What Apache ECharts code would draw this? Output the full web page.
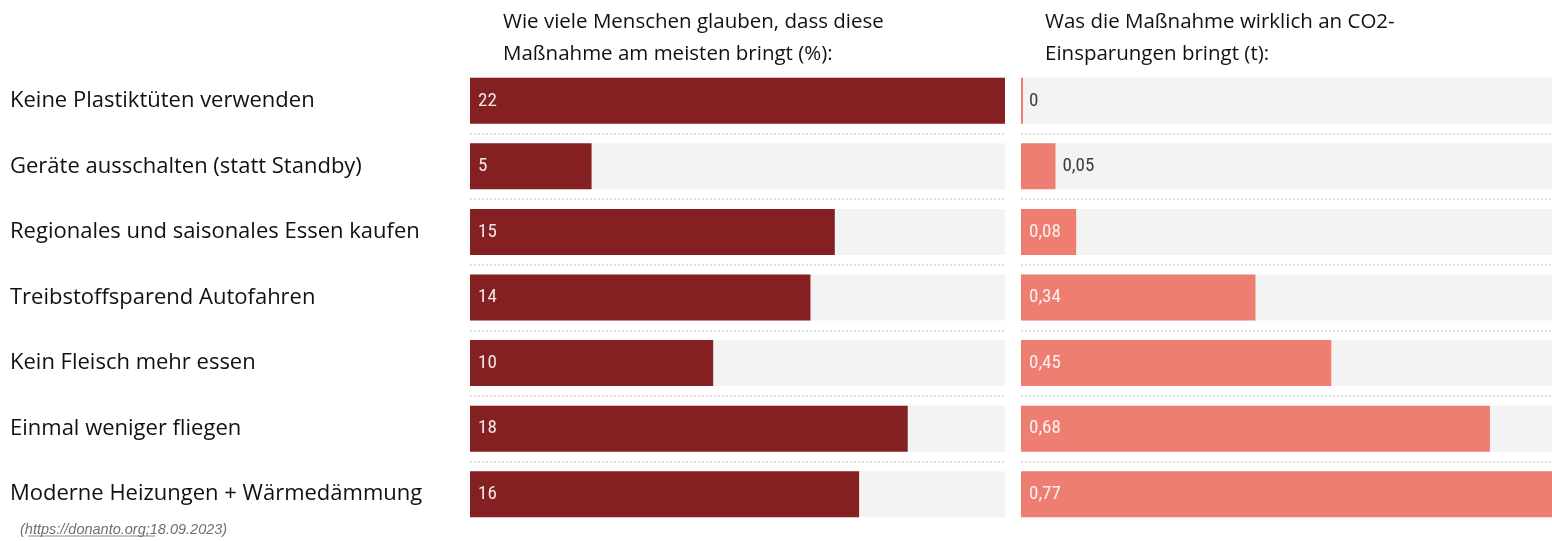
<!DOCTYPE html>
<html>
<head>
<meta charset="utf-8">
<script src="https://cdn.jsdelivr.net/npm/echarts@6/dist/echarts.min.js"></script>
<style>
html,body{margin:0;padding:0;background:#fff;}
#chart{width:1552px;height:541px;}
</style>
</head>
<body>
<div id="chart"></div>
<script>
var massnahmen = ['Keine Plastiktüten verwenden', 'Geräte ausschalten (statt Standby)', 'Regionales und saisonales Essen kaufen', 'Treibstoffsparend Autofahren', 'Kein Fleisch mehr essen', 'Einmal weniger fliegen', 'Moderne Heizungen + Wärmedämmung'];
var glaubenProzent = [22, 5, 15, 14, 10, 18, 16];
var co2Tonnen = [0, 0.05, 0.08, 0.34, 0.45, 0.68, 0.77];

var titelLinks = 'Wie viele Menschen glauben, dass diese\nMaßnahme am meisten bringt (%):';
var titelRechts = 'Was die Maßnahme wirklich an CO2-\nEinsparungen bringt (t):';
var quelle = '(https://donanto.org;18.09.2023)';

var chart = echarts.init(document.getElementById('chart'));

function komma(v){
    return String(v).replace('.', ',');
}

// kleine Werte: Beschriftung dunkel, bei 0,05 rechts neben dem Balken
var co2Data = co2Tonnen.map(function(v){
    if(v == 0){
        return {value: v, label: {color: '#3b3b44'}};
    }else if(v < 0.07){
        return {value: v, label: {position: 'right', distance: 7, color: '#3b3b44'}};
    }
    return v;
});

var labelFont = "'Roboto Condensed', 'Roboto', sans-serif";
var textFont = "'Open Sans', sans-serif";

var option = {
    backgroundColor: '#fff',
    animation: false,
    title: [
        {text: titelLinks, left: 498, top: 1, textStyle: {fontFamily: textFont, fontSize: 20.5, fontWeight: 'normal', color: '#111', lineHeight: 32}},
        {text: titelRechts, left: 1040, top: 1, textStyle: {fontFamily: textFont, fontSize: 20.5, fontWeight: 'normal', color: '#111', lineHeight: 32}},
        {text: quelle, left: 15, top: 517, textStyle: {fontFamily: 'Liberation Sans', fontStyle: 'italic', fontSize: 14.5, fontWeight: 'normal', color: '#6f6f6f'}}
    ],
    graphic: [
        {type: 'line', shape: {x1: 28, y1: 536, x2: 155, y2: 536}, style: {stroke: '#8a8a8a', lineWidth: 1}}
    ],
    grid: [
        {left: 470, width: 535, top: 68, height: 459},
        {left: 1021, right: 0, top: 68, height: 459}
    ],
    xAxis: [
        {type: 'value', gridIndex: 0, min: 0, max: 22, show: false},
        {type: 'value', gridIndex: 1, min: 0, max: 0.77, show: false}
    ],
    yAxis: [
        {
            type: 'category', gridIndex: 0, data: massnahmen, inverse: true,
            axisLine: {show: false}, axisTick: {show: false},
            axisLabel: {align: 'left', margin: 460, fontFamily: textFont, fontSize: 22, color: '#111'},
            splitLine: {show: true, showMinLine: false, showMaxLine: false, lineStyle: {type: 'dotted', color: '#dedede', width: 2}}
        },
        {
            type: 'category', gridIndex: 1, data: massnahmen, inverse: true,
            axisLine: {show: false}, axisTick: {show: false}, axisLabel: {show: false},
            splitLine: {show: true, showMinLine: false, showMaxLine: false, lineStyle: {type: 'dotted', color: '#dedede', width: 2}}
        }
    ],
    series: [
        {
            name: 'Glauben', type: 'bar', xAxisIndex: 0, yAxisIndex: 0,
            data: glaubenProzent, barWidth: 46,
            itemStyle: {color: '#841f22'},
            showBackground: true, backgroundStyle: {color: '#f3f3f3'},
            label: {show: true, position: 'insideLeft', distance: 8, color: '#f4e6e6', fontFamily: labelFont, fontSize: 19, fontWeight: 'normal'}
        },
        {
            name: 'CO2', type: 'bar', xAxisIndex: 1, yAxisIndex: 1,
            data: co2Data, barWidth: 46, barMinHeight: 2,
            itemStyle: {color: '#ee7e72'},
            showBackground: true, backgroundStyle: {color: '#f3f3f3'},
            label: {
                show: true, position: 'insideLeft', distance: 8, color: '#fdf0ee', fontFamily: labelFont, fontSize: 19, fontWeight: 'normal',
                formatter: function(p){ return komma(p.value); }
            }
        }
    ]
};

chart.setOption(option);
</script>
</body>
</html>
